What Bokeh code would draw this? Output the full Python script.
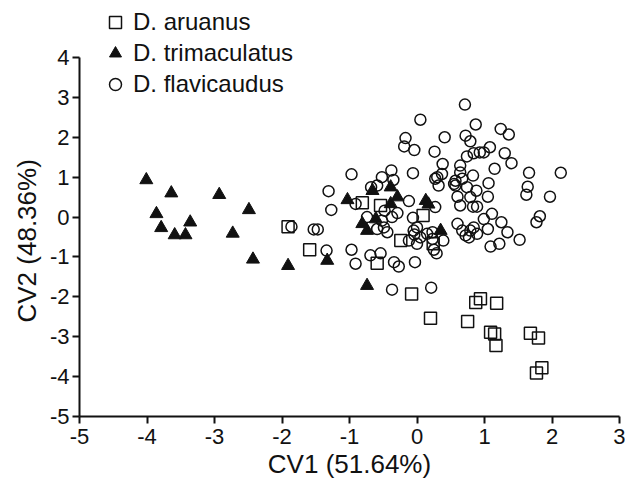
from bokeh.plotting import figure
from bokeh.models import Range1d, Legend, LegendItem, FixedTicker, Title
from bokeh.embed import file_html
from bokeh.resources import INLINE

# D. aruanus (squares)
aru_x = [-1.91, -1.59, -0.81, -0.59, -0.54, -0.24, 0.09, 0.24, -0.08, 0.20, 0.75,
         0.87, 0.94, 1.18, 1.09, 1.15, 1.17, 1.68, 1.80, 1.77, 1.85]
aru_y = [-0.24, -0.82, 0.36, -1.16, 0.29, -0.59, 0.04, -0.67, -1.93, -2.54, -2.62,
         -2.14, -2.05, -2.16, -2.89, -2.93, -3.22, -2.91, -3.03, -3.91, -3.78]

# D. trimaculatus (filled triangles)
tri_x = [-4.01, -3.64, -3.86, -3.79, -3.59, -3.43, -3.36, -2.93, -2.73, -2.49, -2.43,
         -1.91, -1.33, -1.03, -0.74, -0.66, -0.39, -0.29, -0.39, -0.61, -0.74, -0.81,
         0.13, 0.17, 0.35]
tri_y = [0.93, 0.60, 0.08, -0.27, -0.45, -0.45, -0.13, 0.56, -0.41, 0.18, -1.06,
         -1.22, -1.09, 0.43, -1.72, 0.66, 0.75, 0.50, 0.33, -0.05, -0.34, -0.17,
         0.41, 0.32, -0.34]

# D. flavicaudus (open circles)
fla_x = [-1.86, -1.53, -1.47, -1.31, -1.27, -1.34, -0.97, -0.97, -0.91, -0.91, -0.69,
         -0.59, -0.74,
         0.71, 0.05, 0.87, -0.17, -0.19, -0.04, 0.41, 0.26, 0.72, 0.79, 0.38, 0.74,
         0.64, 0.84, -0.38, -0.52, -0.35, -0.06, 0.30, 0.37, 0.32, 0.55, 0.67, 0.74,
         0.60, 0.79, 0.64, 0.83, -0.68, -0.12, -0.29, -0.06, 0.27, -0.52, -0.49,
         -0.59, -0.44, 0.00, -0.04, 0.05, 0.15, 0.23, 0.39, 0.60, 0.67, 0.72, 0.84,
         0.89, -0.54, -0.34, -0.27, -0.03, -0.12, 0.00, 0.25, 0.29, -0.37, -0.48,
         1.24, 1.36, 1.08, 0.99, 0.93, 1.30, 1.40, 1.15, 1.66, 2.13, 0.83, 1.06,
         1.64, 0.57, 0.88, 1.05, 1.62, 1.97, 0.89, 1.11, 1.82, 1.77, 0.99, 1.25,
         1.05, 1.34, 0.77, 1.52, 1.09, 1.22,
         0.27, 0.64, 0.57, 0.79, -0.05, 0.23, -0.37, 0.21]
fla_y = [-0.24, -0.31, -0.31, 0.65, 0.18, -0.84, 1.07, -0.82, -1.17, 0.33, -0.96,
         0.79, 0.00,
         2.82, 2.44, 2.32, 1.98, 1.77, 1.68, 2.00, 1.64, 2.04, 1.90, 1.33, 1.52,
         1.29, 1.60, 1.17, 1.00, 0.93, 1.10, 1.00, 1.08, 0.79, 0.83, 0.96, 0.75,
         0.51, 0.50, 0.29, 0.26, 0.75, 0.40, 0.10, -0.02, 0.25, -0.09, -0.26,
         -0.30, -0.38, -0.26, -0.44, -0.51, -0.42, -0.55, -0.59, -0.17, -0.34, -0.46, -0.26,
         -0.42, -0.91, -1.13, -1.24, -1.13, -0.59, -0.67, -0.82, -0.91, 0.00, 0.16,
         2.21, 2.07, 1.75, 1.62, 1.62, 1.60, 1.35, 1.21, 1.11, 1.11, 1.04, 0.85,
         0.76, 0.79, 0.66, 0.51, 0.56, 0.51, 0.26, 0.08, 0.02, -0.13, -0.05, -0.13,
         -0.30, -0.38, -0.51, -0.57, -0.74, -0.67,
         0.96, 1.12, 0.91, -0.34, -0.34, -0.38, -1.82, -1.77]

x_ticks = [-5, -4, -3, -2, -1, 0, 1, 2, 3]
y_ticks = [-5, -4, -3, -2, -1, 0, 1, 2, 3, 4]
x_title = "CV1 (51.64%)"
y_title = "CV2 (48.36%)"
names = ["D. aruanus", "D. trimaculatus", "D. flavicaudus"]

FONT = "Liberation Sans"
INK = "#111111"

# the frame runs to the top of the canvas so the legend above the "4" tick is
# inside it; the y axis line itself is bounded to -5..4
FRAME_H = 416
Y_TOP = -5 + FRAME_H * 9 / 359.0

p = figure(width=625, height=487, output_backend="svg", toolbar_location=None,
           x_range=Range1d(-5, 3), y_range=Range1d(-5, Y_TOP),
           min_border_left=79, min_border_right=6, min_border_top=0,
           min_border_bottom=71)
p.outline_line_color = None
p.xgrid.visible = False
p.ygrid.visible = False
p.background_fill_color = "white"
p.border_fill_color = "white"

r_fla = p.scatter(fla_x, fla_y, marker="circle", size=11, fill_color=None,
                  line_color=INK, line_width=1.5)
r_aru = p.scatter(aru_x, aru_y, marker="square", size=12, fill_color=None,
                  line_color=INK, line_width=1.5)
r_tri = p.scatter(tri_x, tri_y, marker="triangle", size=13, fill_color=INK,
                  line_color=INK, line_width=1)

p.xaxis.ticker = FixedTicker(ticks=x_ticks)
p.yaxis.ticker = FixedTicker(ticks=y_ticks)
p.yaxis.bounds = (y_ticks[0], y_ticks[-1])
p.xaxis.major_label_overrides = {t: str(t) for t in x_ticks}
p.yaxis.major_label_overrides = {t: str(t) for t in y_ticks}
for ax in (p.xaxis[0], p.yaxis[0]):
    ax.axis_line_width = 2
    ax.axis_line_color = INK
    ax.major_tick_line_width = 2
    ax.major_tick_line_color = INK
    ax.major_tick_out = 7
    ax.major_tick_in = 0
    ax.minor_tick_line_color = None
    ax.major_label_text_font = FONT
    ax.major_label_text_font_size = "22px"
    ax.major_label_text_color = INK
    ax.axis_label_text_font = FONT
    ax.axis_label_text_font_size = "26px"
    ax.axis_label_text_font_style = "normal"
    ax.axis_label_text_color = INK
p.xaxis.axis_label = x_title
p.xaxis.major_label_standoff = 5
p.yaxis.major_label_standoff = 3
p.xaxis.axis_label_standoff = 2

# y axis title placed as a side title so it can be centred on the -5..4 span
ytitle = Title(text=y_title, align="left", offset=94, standoff=10,
               text_font=FONT, text_font_size="26px", text_font_style="normal",
               text_color=INK)
p.add_layout(ytitle, "left")

legend = Legend(items=[LegendItem(label=names[0], renderers=[r_aru]),
                       LegendItem(label=names[1], renderers=[r_tri]),
                       LegendItem(label=names[2], renderers=[r_fla])],
                location=(21, 317), padding=0, margin=0, spacing=1,
                glyph_width=30, glyph_height=30, label_height=30,
                label_standoff=3, border_line_color=None,
                background_fill_alpha=0,
                label_text_font=FONT, label_text_font_size="24px",
                label_text_color=INK)
p.add_layout(legend)

open("out.html", "w").write(file_html(p, INLINE))
